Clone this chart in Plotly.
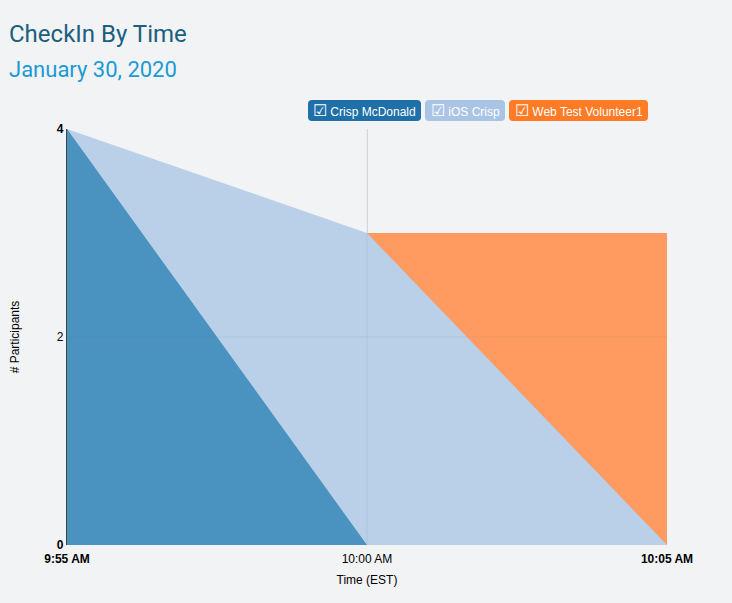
import plotly.graph_objects as go

times = ["2020-01-30 09:55", "2020-01-30 10:00", "2020-01-30 10:05"]
tick_labels = ["<b>9:55 AM</b>", "10:00 AM", "<b>10:05 AM</b>"]
crisp_mcdonald = [4, 0, 0]
ios_crisp = [4, 3, 0]
web_test_volunteer1 = [None, 3, 3]
y_ticks = [0, 2, 4]
y_tick_labels = ["<b>0</b>", "2", "<b>4</b>"]

series = [
    ("Web Test Volunteer1", web_test_volunteer1, "#ff9a60"),
    ("iOS Crisp", ios_crisp, "#bacfe8"),
    ("Crisp McDonald", crisp_mcdonald, "#4a92bf"),
]

fig = go.Figure()
for name, vals, col in series:
    fig.add_trace(go.Scatter(x=times, y=vals, name=name, mode="lines",
                             line=dict(width=0), fill="tozeroy", fillcolor=col,
                             showlegend=False, hoverinfo="skip"))

bg = "#f2f3f5"
fig.update_layout(
    width=732, height=603,
    paper_bgcolor=bg, plot_bgcolor=bg,
    margin=dict(l=67, r=65, t=129, b=58),
    font=dict(family="Liberation Sans, Arial, sans-serif", size=12, color="#000"),
    xaxis=dict(range=[times[0], times[-1]], tickvals=times, ticktext=tick_labels,
               showgrid=True, gridcolor="#dcdde0", gridwidth=1, zeroline=False,
               showline=False, ticks="", ticklen=0, ticklabelstandoff=5,
               title=dict(text="Time (EST)", standoff=10, font=dict(size=12))),
    yaxis=dict(range=[0, 4], tickvals=y_ticks, ticktext=y_tick_labels,
               showgrid=True, gridcolor="#dcdde0", gridwidth=1, zeroline=False,
               showline=True, linecolor="#444", linewidth=1.2, ticks="",
               title=dict(text="# Participants", standoff=34, font=dict(size=12))),
)

# faint grid lines visible through the filled areas
fig.add_shape(type="line", xref="x", yref="paper", x0=times[1], x1=times[1], y0=0, y1=1,
              line=dict(color="rgba(110,120,135,0.10)", width=1), layer="above")
fig.add_shape(type="line", xref="paper", yref="y", x0=0, x1=1, y0=y_ticks[1], y1=y_ticks[1],
              line=dict(color="rgba(110,120,135,0.10)", width=1), layer="above")

fig.add_annotation(text="CheckIn By Time", xref="paper", yref="paper",
                   x=(7 - 67) / 600, y=(545 - 34) / 416, xanchor="left", yanchor="middle",
                   showarrow=False, font=dict(family="Roboto", size=24, color="#1b5e7e"))
fig.add_annotation(text="January 30, 2020", xref="paper", yref="paper",
                   x=(7 - 67) / 600, y=(545 - 69) / 416, xanchor="left", yanchor="middle",
                   showarrow=False, font=dict(family="Roboto", size=22, color="#1a9ad6"))

legend_items = [
    ("Crisp McDonald", "#1f6fa8", 308, 421),
    ("iOS Crisp", "#aac4e6", 425, 505),
    ("Web Test Volunteer1", "#ff7b25", 509, 648),
]

def px(x):
    return (x - 67) / 600

def py(y):
    return (545 - y) / 416

def rounded(x0, x1, y0, y1, r=4):
    return (f"M {px(x0 + r)},{py(y0)} L {px(x1 - r)},{py(y0)} "
            f"Q {px(x1)},{py(y0)} {px(x1)},{py(y0 + r)} L {px(x1)},{py(y1 - r)} "
            f"Q {px(x1)},{py(y1)} {px(x1 - r)},{py(y1)} L {px(x0 + r)},{py(y1)} "
            f"Q {px(x0)},{py(y1)} {px(x0)},{py(y1 - r)} L {px(x0)},{py(y0 + r)} "
            f"Q {px(x0)},{py(y0)} {px(x0 + r)},{py(y0)} Z")

for name, col, x0, x1 in legend_items:
    fig.add_shape(type="path", xref="paper", yref="paper",
                  path=rounded(x0, x1, 100, 121),
                  fillcolor=col, line=dict(width=0), layer="above")
    fig.add_annotation(text="<span style='font-size:16px'>☑</span> " + name,
                       xref="paper", yref="paper",
                       x=px((x0 + x1) / 2), y=py(110.5),
                       xanchor="center", yanchor="middle", showarrow=False,
                       font=dict(family="Liberation Sans, Arial", size=12, color="white"))

fig.write_html("out.html", config={"displayModeBar": False},
               post_script="document.body.style.margin='0';document.body.style.background='#f2f3f5';")
